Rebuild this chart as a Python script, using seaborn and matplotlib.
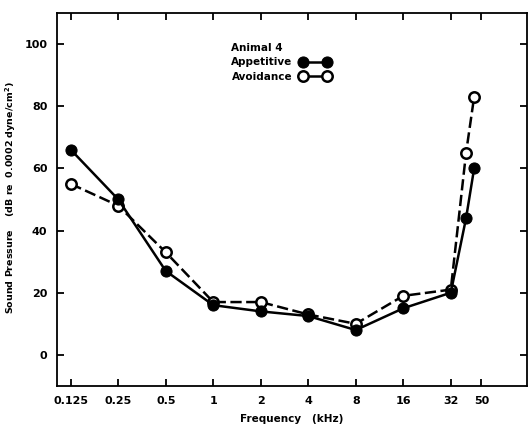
import matplotlib
matplotlib.use("Agg")
import matplotlib.pyplot as plt
import seaborn as sns
import pandas as pd
from matplotlib.ticker import FixedLocator, FixedFormatter, NullLocator

freq = [0.125, 0.25, 0.5, 1, 2, 4, 8, 16, 32, 40, 45]
appetitive = [66, 50, 27, 16, 14, 12.5, 8, 15, 20, 44, 60]
avoidance = [55, 48, 33, 17, 17, 13, 10, 19, 21, 65, 83]
xticks = [0.125, 0.25, 0.5, 1, 2, 4, 8, 16, 32, 50]
xticklabels = ["0.125", "0.25", "0.5", "1", "2", "4", "8", "16", "32", "50"]
yticks = [0, 20, 40, 60, 80, 100]

sns.set_style("ticks")
plt.rcParams['font.family'] = ['DejaVu Sans']
plt.rcParams['font.weight'] = 'bold'
for k in ['text.color', 'axes.labelcolor', 'xtick.color', 'ytick.color',
          'axes.edgecolor']:
    plt.rcParams[k] = 'black'

fig = plt.figure(figsize=(5.29, 4.24), dpi=100)
ax = fig.add_axes([0.1078, 0.0896, 0.888, 0.880])

df_app = pd.DataFrame({"f": freq, "v": appetitive})
df_av = pd.DataFrame({"f": freq, "v": avoidance})

sns.lineplot(data=df_av, x="f", y="v", ax=ax, color="black", lw=1.8,
             marker="o", markersize=7.5, markerfacecolor="white",
             markeredgecolor="black", markeredgewidth=1.8,
             dashes=False, linestyle=(0, (4.5, 1.8)), label="Avoidance")
sns.lineplot(data=df_app, x="f", y="v", ax=ax, color="black", lw=1.8,
             marker="o", markersize=8, markerfacecolor="black",
             markeredgecolor="black", label="Appetitive")

ax.set_xscale("log")
ax.set_xlim(0.1023, 97)
ax.set_ylim(-10, 110)
ax.xaxis.set_major_locator(FixedLocator(xticks))
ax.xaxis.set_major_formatter(FixedFormatter(xticklabels))
ax.xaxis.set_minor_locator(NullLocator())
ax.set_yticks(yticks)
ax.tick_params(direction="in", length=5, width=1.3, labelsize=8,
               top=True, right=True, pad=7, colors="black")
for lab in ax.get_xticklabels() + ax.get_yticklabels():
    lab.set_fontweight("bold")
for s in ax.spines.values():
    s.set_linewidth(1.3)
    s.set_color("black")

ax.set_xlabel("Frequency   (kHz)", fontsize=7.5, fontweight="bold", labelpad=6)
ax.set_ylabel("Sound Pressure    (dB re  0.0002 dyne/cm$^\\mathbf{2}$)",
              fontsize=6.8, fontweight="bold")
ax.yaxis.set_label_coords(-0.083, 0.505)

h, l = ax.get_legend_handles_labels()
leg = ax.legend([h[1], h[0]], ["Appetitive", "Avoidance"], title="Animal 4",
                loc="upper left", bbox_to_anchor=(0.355, 0.94), frameon=False,
                markerfirst=False, numpoints=2, handlelength=2.9,
                fontsize=7.5, title_fontsize=7.5, labelspacing=0.45,
                handletextpad=0.7, borderpad=0.2)
leg._legend_box.align = "left"
leg.get_title().set_fontweight("bold")
leg.get_title().set_color("black")
for t in leg.get_texts():
    t.set_fontweight("bold")
    t.set_color("black")
for lh in leg.get_lines():
    lh.set_linestyle("-")

fig.savefig("out.png", dpi=100)
